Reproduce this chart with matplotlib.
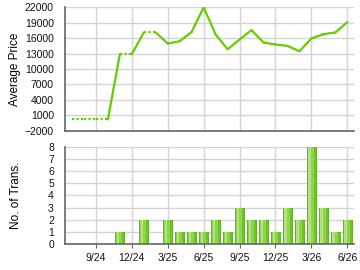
import matplotlib
matplotlib.use("Agg")
import matplotlib.pyplot as plt
import numpy as np

plt.rcParams['font.family'] = ['Liberation Sans', 'DejaVu Sans']

# months from 7/24 to 6/26
months = ['7/24', '8/24', '9/24', '10/24', '11/24', '12/24',
          '1/25', '2/25', '3/25', '4/25', '5/25', '6/25',
          '7/25', '8/25', '9/25', '10/25', '11/25', '12/25',
          '1/26', '2/26', '3/26', '4/26', '5/26', '6/26']
price = [200, 200, 200, 200, 12900, 12900,
         17100, 17100, 14950, 15400, 17230, 22000,
         16700, 13840, 15740, 17560, 15150, 14760,
         14490, 13450, 15930, 16770, 17100, 19120]
trans = [0, 0, 0, 0, 1, 0,
         2, 0, 2, 1, 1, 1,
         2, 1, 3, 2, 2, 1,
         3, 2, 8, 3, 1, 2]
tick_labels = ['9/24', '12/24', '3/25', '6/25', '9/25', '12/25', '3/26', '6/26']

x = np.arange(len(months))
tick_pos = [months.index(t) for t in tick_labels]

green = '#66cc00'
grid_c = '#d4d4d4'
axis_c = '#666666'

fig = plt.figure(figsize=(3.6, 2.7), dpi=100)
ax1 = fig.add_axes([0.1806, 0.516, 0.8025, 0.457])
ax2 = fig.add_axes([0.1806, 0.0963, 0.8025, 0.3593])

for ax in (ax1, ax2):
    ax.set_xlim(-0.58, 23.55)
    ax.set_xticks(tick_pos)
    for s in ('top', 'right'):
        ax.spines[s].set_visible(False)
    for s in ('left', 'bottom'):
        ax.spines[s].set_color(axis_c)
        ax.spines[s].set_linewidth(1.2)
    ax.grid(True, color=grid_c, linewidth=1.0)
    ax.set_axisbelow(True)
    ax.tick_params(axis='y', length=0, pad=8, labelsize=7.5, colors='#111111')
    ax.tick_params(axis='x', length=3, color=axis_c, labelsize=7.5, colors='#111111')

# price line: solid into months with transactions, dotted otherwise
for i in range(1, len(x)):
    style = '-' if trans[i] > 0 else (0, (1, 1))
    ax1.plot(x[i - 1:i + 1], price[i - 1:i + 1], color=green, linewidth=1.6,
             linestyle=style, solid_capstyle='round')
ax1.set_ylim(-2000, 22000)
ax1.set_yticks(np.arange(-2000, 22001, 3000))
ax1.set_xticklabels([])
ax1.tick_params(axis='x', length=0)
ax1.set_ylabel('Average Price', fontsize=8.5)
ax1.yaxis.set_label_coords(-0.152, 0.5)

# transactions bars with a simple shading
ax2.bar(x, trans, width=0.75, color='#6cc426', edgecolor='#5aa81c', linewidth=0.6)
ax2.bar(x - 0.05, trans, width=0.5, color='#8fd450', linewidth=0)
ax2.bar(x - 0.15, trans, width=0.2, color='#b2e47c', linewidth=0)
ax2.set_ylim(0, 8)
ax2.set_yticks(range(0, 9))
ax2.set_xticklabels(tick_labels)
ax2.set_ylabel('No. of Trans.', fontsize=8.5)
ax2.yaxis.set_label_coords(-0.15, 0.5)

fig.savefig('out.png', dpi=100)
